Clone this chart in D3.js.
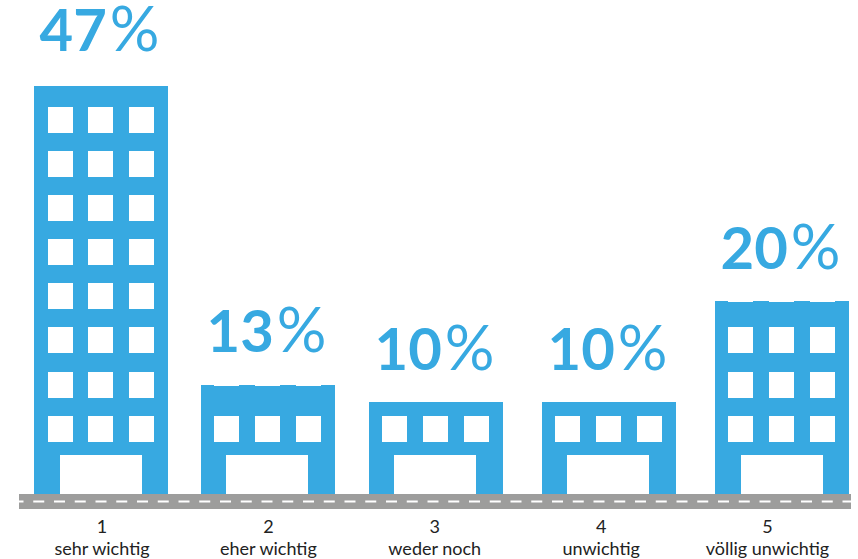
<!DOCTYPE html>
<html lang="de">
<head>
<meta charset="utf-8">
<title>Wichtigkeit</title>
<script src="https://cdn.jsdelivr.net/npm/d3@7"></script>
<style>
  html, body { margin: 0; padding: 0; background: #fff; }
  svg { display: block; }
</style>
</head>
<body>
<svg id="chart" width="858" height="559"></svg>
<script>
// Survey answers, one building per answer
const ratings = ["1", "2", "3", "4", "5"];
const answers = ["sehr wichtig", "eher wichtig", "weder noch", "unwichtig", "völlig unwichtig"];
const shares = [47, 13, 10, 10, 20];
const floors = [8, 1, 1, 1, 3];
const shareDomain = [10, 13, 20, 47];

const blue = "#37a9e1";
const grey = "#9d9d9c";
const ink = "#222222";

const svg = d3.select("#chart");
const groundY = 494;
const roadH = 15;
const bWidth = 134;

// Buildings are pictograms: storeys are whole units, so height follows share piecewise
const roofY = d3.scaleLinear().domain(shareDomain).range([402, 385, 301, 86]);
const labelY = d3.scaleLinear().domain(shareDomain).range([370, 352, 269, 51]);
const slotX = d3.scaleOrdinal().domain(ratings).range([34, 201, 369, 542, 715]);
const doorInset = d3.scaleOrdinal().domain(ratings).range([26, 25, 25, 25, 26]);
const columnX = d3.scaleOrdinal().domain([0, 1, 2]).range([13, 54, 95]);
const captionX = d3.scalePoint().domain(ratings).range([102, 767.5]);
// Storey 0 sits directly over the door, higher storeys stack upward
const storeyY = d3.scaleLinear().domain([0, 7]).range([415.7, 106.9]);

const rows = ratings.map((r, i) => ({
  rating: r, answer: answers[i], share: shares[i], floors: floors[i]
}));

const building = svg.selectAll("g.building").data(rows).join("g")
  .attr("class", "building")
  .attr("transform", d => `translate(${slotX(d.rating)},0)`);

building.append("rect")
  .attr("width", bWidth)
  .attr("y", d => roofY(d.share))
  .attr("height", d => groundY - roofY(d.share))
  .attr("fill", blue);

// Shallow roof notches on the mid-height buildings
building.filter(d => d.share === 13 || d.share === 20)
  .selectAll("rect.notch")
  .data(d => [0, 1, 2].map(c => ({ c, y: roofY(d.share) })))
  .join("rect")
  .attr("class", "notch")
  .attr("x", d => columnX(d.c))
  .attr("y", d => d.y)
  .attr("width", 25).attr("height", 1)
  .attr("fill", "#fff");

// Door
building.append("rect")
  .attr("x", d => doorInset(d.rating)).attr("width", 82)
  .attr("y", 455).attr("height", groundY - 455)
  .attr("fill", "#fff");

// Windows: the tall tower's first column sits one pixel further in
building.selectAll("rect.window")
  .data(d => d3.cross(d3.range(d.floors), [0, 1, 2]).map(([f, c]) => ({
    f, c, nudge: d.floors === 8 && c === 0 ? 1 : 0
  })))
  .join("rect")
  .attr("class", "window")
  .attr("x", d => columnX(d.c) + d.nudge)
  .attr("y", d => Math.round(storeyY(d.f)))
  .attr("width", 25).attr("height", 26)
  .attr("fill", "#fff");

// Share labels above each building: heavy digits, larger and lighter percent sign
const shareLabel = building.append("text")
  .attr("x", bWidth / 2 - 1.5)
  .attr("y", d => labelY(d.share))
  .attr("text-anchor", "middle")
  .attr("font-family", "Lato, sans-serif")
  .attr("font-size", 58)
  .attr("fill", blue);
shareLabel.append("tspan")
  .attr("font-weight", 700)
  .text(d => d.share);
shareLabel.append("tspan")
  .attr("font-weight", 400)
  .attr("font-size", 62)
  .attr("dx", 3)
  .text("%");

// Road with a dashed centre line
svg.append("rect")
  .attr("x", 19).attr("y", groundY)
  .attr("width", 832).attr("height", roadH)
  .attr("fill", grey);
svg.append("line")
  .attr("x1", 19).attr("x2", 851)
  .attr("y1", groundY + 7.5).attr("y2", groundY + 7.5)
  .attr("stroke", "#fff")
  .attr("stroke-width", 2)
  .attr("stroke-dasharray", "11 9.75")
  .attr("stroke-dashoffset", 6.5);

// Category captions sit on their own even spacing under the road
const caption = svg.selectAll("text.caption").data(rows).join("text")
  .attr("class", "caption")
  .attr("text-anchor", "middle")
  .attr("font-family", "Lato, sans-serif")
  .attr("font-size", 18)
  .attr("fill", ink);
caption.append("tspan")
  .attr("x", d => captionX(d.rating)).attr("y", 533)
  .text(d => d.rating);
caption.append("tspan")
  .attr("x", d => captionX(d.rating)).attr("y", 555)
  .text(d => d.answer);
</script>
</body>
</html>
